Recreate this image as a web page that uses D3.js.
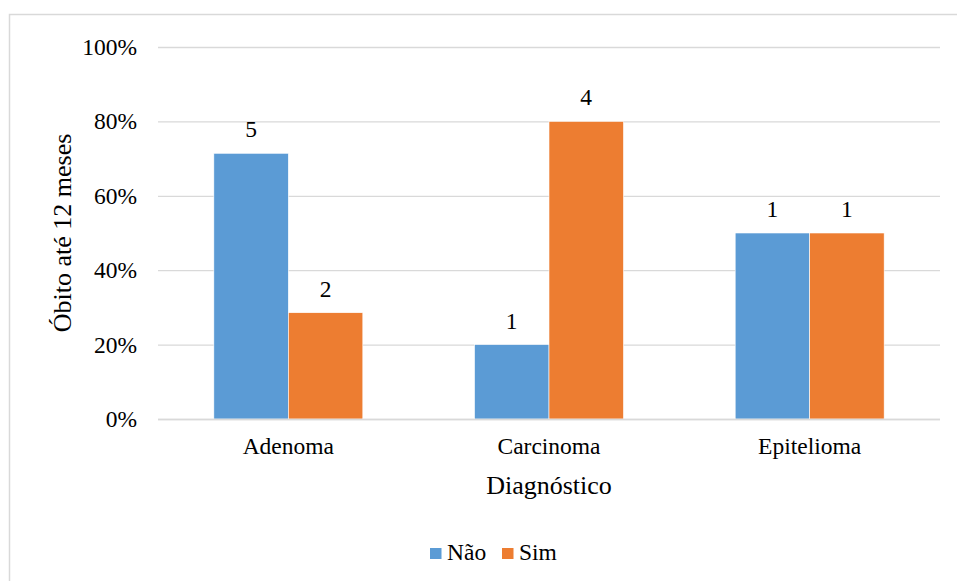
<!DOCTYPE html>
<html>
<head>
<meta charset="utf-8">
<script src="https://cdn.jsdelivr.net/npm/d3@7"></script>
<style>
  html, body { margin: 0; padding: 0; background: #fff; }
  svg { display: block; }
  svg text { font-family: 'Liberation Serif', 'Times New Roman', Times, 'DejaVu Serif', serif !important; fill: #000; }
</style>
</head>
<body>
<svg id="chart" width="957" height="581"></svg>
<script>
// Diagnosis categories and death counts within 12 months
const categories = ["Adenoma", "Carcinoma", "Epitelioma"];
const seriesNames = ["Não", "Sim"];
const countsNao = [5, 1, 1];
const countsSim = [2, 4, 1];
const yTicks = [0, 0.2, 0.4, 0.6, 0.8, 1.0];
const colors = ["#5B9BD5", "#ED7D31"];

const rows = categories.map((c, i) => {
  const total = countsNao[i] + countsSim[i];
  return {
    category: c,
    values: [
      { series: seriesNames[0], count: countsNao[i], share: countsNao[i] / total },
      { series: seriesNames[1], count: countsSim[i], share: countsSim[i] / total }
    ]
  };
});

const svg = d3.select("#chart");
const W = 957, H = 581;
const plot = { left: 158, right: 940, top: 47, bottom: 419 };

// chart frame
svg.append("rect")
  .attr("x", 9.5).attr("y", 14.5)
  .attr("width", W + 10).attr("height", H + 10)
  .attr("fill", "#fff")
  .attr("stroke", "#d9d9d9").attr("stroke-width", 1.5);

const x0 = d3.scaleBand()
  .domain(categories)
  .range([plot.left, plot.right])
  .paddingInner(0.4285)
  .paddingOuter(0.4285 / 2);

const x1 = d3.scaleBand()
  .domain(seriesNames)
  .range([0, x0.bandwidth()]);

const y = d3.scaleLinear().domain([0, 1]).range([plot.bottom, plot.top]);

// gridlines + y tick labels
const yAxis = d3.axisLeft(y)
  .tickValues(yTicks)
  .tickFormat(d3.format(".0%"))
  .tickSize(-(plot.right - plot.left))
  .tickPadding(21);

const gy = svg.append("g")
  .attr("transform", `translate(${plot.left},0)`)
  .call(yAxis)
  .attr("font-family", null);
gy.select(".domain").remove();
gy.selectAll(".tick line").attr("stroke", "#d9d9d9").attr("stroke-width", 1.3);
gy.selectAll(".tick text")
  .attr("font-size", "23.5px")
  .attr("fill", "#000");

// bars
const groups = svg.append("g").selectAll("g")
  .data(rows)
  .join("g")
  .attr("transform", d => `translate(${x0(d.category)},0)`);

groups.selectAll("rect")
  .data(d => d.values)
  .join("rect")
  .attr("x", d => x1(d.series))
  .attr("y", d => y(d.share))
  .attr("width", x1.bandwidth())
  .attr("height", d => y(0) - y(d.share))
  .attr("fill", (d, i) => colors[i])
  .attr("stroke", "#fff")
  .attr("stroke-width", 0.6);

// count labels above bars
groups.selectAll("text.count")
  .data(d => d.values)
  .join("text")
  .attr("class", "count")
  .attr("x", d => x1(d.series) + x1.bandwidth() / 2)
  .attr("y", d => y(d.share) - 16)
  .attr("text-anchor", "middle")
  .attr("font-size", "23.5px")
  .text(d => d.count);

// x axis baseline
svg.append("line")
  .attr("x1", plot.left).attr("x2", plot.right)
  .attr("y1", plot.bottom + 0.5).attr("y2", plot.bottom + 0.5)
  .attr("stroke", "#d9d9d9").attr("stroke-width", 1.3);

// category labels
const xAxis = d3.axisBottom(x0).tickSize(0).tickPadding(18);
const gx = svg.append("g")
  .attr("transform", `translate(0,${plot.bottom})`)
  .call(xAxis)
  .attr("font-family", null);
gx.select(".domain").remove();
gx.selectAll(".tick text")
  .attr("font-size", "23.5px")
  .attr("fill", "#000");

// axis titles
svg.append("text")
  .attr("x", (plot.left + plot.right) / 2)
  .attr("y", 494)
  .attr("text-anchor", "middle")
  .attr("font-size", "26px")
  .text("Diagnóstico");

svg.append("text")
  .attr("transform", `translate(71,${(plot.top + plot.bottom) / 2}) rotate(-90)`)
  .attr("text-anchor", "middle")
  .attr("font-size", "26px")
  .text("Óbito até 12 meses");

// legend
const legendItems = [
  { name: seriesNames[0], color: colors[0], x: 430 },
  { name: seriesNames[1], color: colors[1], x: 502 }
];
const lg = svg.append("g").selectAll("g")
  .data(legendItems)
  .join("g")
  .attr("transform", d => `translate(${d.x},548)`);
lg.append("rect")
  .attr("width", 11.5).attr("height", 11)
  .attr("fill", d => d.color);
lg.append("text")
  .attr("x", 17).attr("y", 12)
  .attr("font-size", "23.5px")
  .text(d => d.name);
</script>
</body>
</html>
